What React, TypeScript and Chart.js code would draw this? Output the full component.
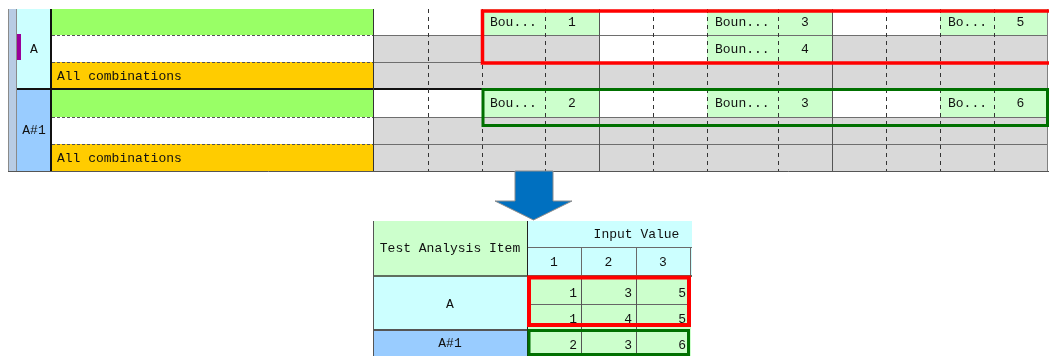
import React, { useEffect, useRef } from "react";
import { Chart, registerables } from "chart.js";

Chart.register(...registerables);

// ---------------- data ----------------
const topItems = ["A", "A#1"];
const topRowLabels = ["", "", "All combinations"];
const boundaryLabels = ["Bou...", "Boun...", "Bo..."];
const topValuesA = [
  [1, 3, 5],
  [null, 4, null],
];
const topValuesA1 = [
  [2, 3, 6],
  [null, null, null],
];
const inputHeaders = ["1", "2", "3"];
const bottomItems = ["A", "A#1"];
const bottomValuesA = [
  [1, 3, 5],
  [1, 4, 5],
];
const bottomValuesA1 = [[2, 3, 6]];

// ---------------- layout (diagram units) ----------------
const W = 1049;
const H = 356;
const TOP_ROWS = [9, 35, 62, 89, 117, 144, 171];
const TOP_COLS = [373, 428, 482, 545, 599, 653, 707, 778, 832, 886, 940, 994, 1047];
const STRIP = [8, 17];
const ITEM_COL = [17, 51];
const LABEL_COL = [52, 373];
const BX = [373, 527, 581, 636, 690];
const BY_HEAD = [221, 247, 276];
const BY_BODY = [277, 304, 330, 356];

const C = {
  lime: "#99ff66",
  orange: "#ffcc00",
  cyan: "#ccffff",
  blue: "#99ccff",
  pale: "#ccffcc",
  gray: "#d9d9d9",
  red: "#ff0000",
  green: "#007000",
  arrow: "#0070c0",
  magenta: "#990099",
};

const FONT = "13px 'Liberation Mono', 'DejaVu Sans Mono', monospace";

const tablePlugin = {
  id: "tablePlugin",
  afterDraw(chart: any) {
    const ctx: CanvasRenderingContext2D = chart.ctx;
    const sx = chart.scales.x;
    const sy = chart.scales.y;
    const X = (v: number) => sx.getPixelForValue(v);
    const Y = (v: number) => sy.getPixelForValue(v);

    const rect = (x0: number, y0: number, x1: number, y1: number, fill: string) => {
      ctx.fillStyle = fill;
      ctx.fillRect(X(x0), Y(y0), X(x1) - X(x0), Y(y1) - Y(y0));
    };
    const line = (
      x0: number, y0: number, x1: number, y1: number,
      color: string, width = 1, dash: number[] = []
    ) => {
      ctx.save();
      ctx.strokeStyle = color;
      ctx.lineWidth = width;
      ctx.setLineDash(dash);
      ctx.beginPath();
      const off = width % 2 === 1 ? 0.5 : 0;
      if (x0 === x1) {
        ctx.moveTo(Math.round(X(x0)) + off, Y(y0));
        ctx.lineTo(Math.round(X(x1)) + off, Y(y1));
      } else {
        ctx.moveTo(X(x0), Math.round(Y(y0)) + off);
        ctx.lineTo(X(x1), Math.round(Y(y1)) + off);
      }
      ctx.stroke();
      ctx.restore();
    };
    const box = (x0: number, y0: number, x1: number, y1: number, color: string, width: number) => {
      ctx.save();
      ctx.strokeStyle = color;
      ctx.lineWidth = width;
      ctx.strokeRect(X(x0), Y(y0), X(x1) - X(x0), Y(y1) - Y(y0));
      ctx.restore();
    };
    const text = (s: string, x: number, y: number, align: CanvasTextAlign, color = "#111") => {
      ctx.save();
      ctx.font = FONT;
      ctx.fillStyle = color;
      ctx.textAlign = align;
      ctx.textBaseline = "middle";
      ctx.fillText(s, X(x), Y(y));
      ctx.restore();
    };

    ctx.save();
    rect(0, 0, W, H, "#ffffff");

    // ---------- top table ----------
    const topVals = [topValuesA, topValuesA1];
    topItems.forEach((item, i) => {
      const iy0 = TOP_ROWS[i * 3];
      const iy1 = TOP_ROWS[i * 3 + 3];
      rect(ITEM_COL[0], iy0, ITEM_COL[1], iy1, i === 0 ? C.cyan : C.blue);
      topRowLabels.forEach((lab, r) => {
        const y0 = TOP_ROWS[i * 3 + r];
        const y1 = TOP_ROWS[i * 3 + r + 1];
        rect(LABEL_COL[0], y0, LABEL_COL[1], y1, r === 0 ? C.lime : r === 1 ? "#ffffff" : C.orange);
        if (lab) text(lab, LABEL_COL[0] + 5, (y0 + y1) / 2 + 1, "left");
        for (let c = 0; c < 3; c++) {
          const xs = TOP_COLS.slice(c * 4, c * 4 + 5);
          const v = r < 2 ? topVals[i][r][c] : null;
          if (v === null || v === undefined) {
            rect(xs[0], y0, xs[4], y1, C.gray);
          } else {
            rect(xs[0], y0, xs[2], y1, "#ffffff");
            rect(xs[2], y0, xs[4], y1, C.pale);
            text(boundaryLabels[c], xs[2] + 8, (y0 + y1) / 2 + 1, "left");
            text(String(v), (xs[3] + xs[4]) / 2, (y0 + y1) / 2 + 1, "center");
          }
        }
      });
      text(item, (ITEM_COL[0] + ITEM_COL[1]) / 2, (iy0 + iy1) / 2 + 1, "center");
    });
    // magenta marker
    rect(ITEM_COL[0], 34, ITEM_COL[0] + 4, 60, C.magenta);
    // left strip
    rect(STRIP[0], TOP_ROWS[0], STRIP[1], TOP_ROWS[6], "#b8cce4");
    line(STRIP[0], TOP_ROWS[0], STRIP[0], TOP_ROWS[6], "#8a8a8a");
    line(STRIP[1] - 1, TOP_ROWS[0], STRIP[1] - 1, TOP_ROWS[6], "#8a8a8a");

    // horizontal lines
    [1, 2, 4, 5].forEach((k) => {
      const y = TOP_ROWS[k];
      line(LABEL_COL[0], y, LABEL_COL[1], y, "#555555", 1, [3, 2]);
      line(LABEL_COL[1], y, TOP_COLS[12], y, "#6e6e6e");
    });
    line(ITEM_COL[0], TOP_ROWS[3], W, TOP_ROWS[3], "#111111", 2);
    line(STRIP[0], TOP_ROWS[6], W, TOP_ROWS[6], "#555555");

    // vertical lines
    line(ITEM_COL[1], TOP_ROWS[0], ITEM_COL[1], TOP_ROWS[6], "#111111", 2);
    TOP_COLS.forEach((x, k) => {
      if (k === 0) line(x, TOP_ROWS[0], x, TOP_ROWS[6], "#333333");
      else if (k === 12) line(x, TOP_ROWS[0], x, TOP_ROWS[6], "#808080");
      else if (k % 4 === 0) line(x, TOP_ROWS[0], x, TOP_ROWS[6], "#555555");
      else line(x, TOP_ROWS[0], x, TOP_ROWS[6], "#333333", 1, [4, 4]);
    });

    // highlight boxes
    box(482.5, 11, 1052, 63, C.red, 3.5);
    box(483, 89.5, 1047.5, 125.5, C.green, 3);

    // ---------- arrow ----------
    ctx.save();
    ctx.beginPath();
    ctx.moveTo(X(515), Y(171));
    ctx.lineTo(X(553), Y(171));
    ctx.lineTo(X(553), Y(201));
    ctx.lineTo(X(572), Y(201));
    ctx.lineTo(X(533.5), Y(220));
    ctx.lineTo(X(495), Y(201));
    ctx.lineTo(X(515), Y(201));
    ctx.closePath();
    ctx.fillStyle = C.arrow;
    ctx.fill();
    ctx.strokeStyle = "#8c8c8c";
    ctx.lineWidth = 1;
    ctx.stroke();
    ctx.restore();

    // ---------- bottom table ----------
    rect(BX[0], BY_HEAD[0], BX[1], BY_HEAD[2], C.pale);
    text("Test Analysis Item", (BX[0] + BX[1]) / 2, 249, "center");
    rect(BX[1], BY_HEAD[0], BX[4] + 2, BY_HEAD[2], C.cyan);
    text("Input Value", 636.5, 235, "center");
    inputHeaders.forEach((h, c) => {
      text(h, (BX[c + 1] + BX[c + 2]) / 2, 263, "center");
    });
    line(BX[1], BY_HEAD[1], BX[4] + 2, BY_HEAD[1], "#6a6a6a");
    [2, 3, 4].forEach((k) => line(BX[k], BY_HEAD[1], BX[k], BY_HEAD[2], "#6a6a6a"));

    // body
    const bottomVals = [bottomValuesA, bottomValuesA1];
    let rowIdx = 0;
    bottomItems.forEach((item, i) => {
      const rows = bottomVals[i];
      const y0 = BY_BODY[rowIdx];
      const y1 = BY_BODY[rowIdx + rows.length];
      rect(BX[0], y0, BX[1], y1, i === 0 ? C.cyan : C.blue);
      text(item, (BX[0] + BX[1]) / 2, (y0 + y1) / 2 + 1, "center");
      rows.forEach((vals, r) => {
        const ry0 = BY_BODY[rowIdx + r];
        const ry1 = BY_BODY[rowIdx + r + 1];
        rect(BX[1], ry0, BX[4] + 1, ry1, C.pale);
        vals.forEach((v, c) => {
          text(String(v), BX[c + 2] - 4, ry1 - 10, "right");
        });
      });
      rowIdx += rows.length;
    });
    line(BX[1], BY_BODY[1], BX[4], BY_BODY[1], "#666666");
    line(BX[0], BY_BODY[2], BX[4], BY_BODY[2], "#555555", 2);
    [2, 3].forEach((k) => line(BX[k], BY_BODY[0], BX[k], BY_BODY[3], "#555555"));
    // thick header separator
    line(BX[0], 276, BX[4] + 2, 276, "#5f6f5f", 2);
    // borders
    line(BX[0], BY_HEAD[0], BX[0], H, "#555555");
    line(BX[1], BY_HEAD[0], BX[1], H, "#222222");

    box(529, 277.5, 689, 325, C.red, 4);
    box(529, 330.5, 688.5, 354.5, C.green, 3);

    ctx.restore();
  },
};

export default function App() {
  const ref = useRef<HTMLCanvasElement | null>(null);
  useEffect(() => {
    document.body.style.margin = "0";
    if (!ref.current) return;
    const chart = new Chart(ref.current, {
      type: "scatter",
      data: { datasets: [] },
      options: {
        responsive: false,
        animation: false,
        events: [],
        layout: { padding: 0 },
        plugins: { legend: { display: false }, tooltip: { enabled: false } },
        scales: {
          x: { type: "linear", min: 0, max: W, display: false },
          y: { type: "linear", min: 0, max: H, reverse: true, display: false },
        },
      },
      plugins: [tablePlugin],
    } as any);
    return () => chart.destroy();
  }, []);
  return (
    <div style={{ position: "fixed", left: 0, top: 0, width: W, height: H }}>
      <canvas ref={ref} width={W} height={H} style={{ display: "block" }} />
    </div>
  );
}
